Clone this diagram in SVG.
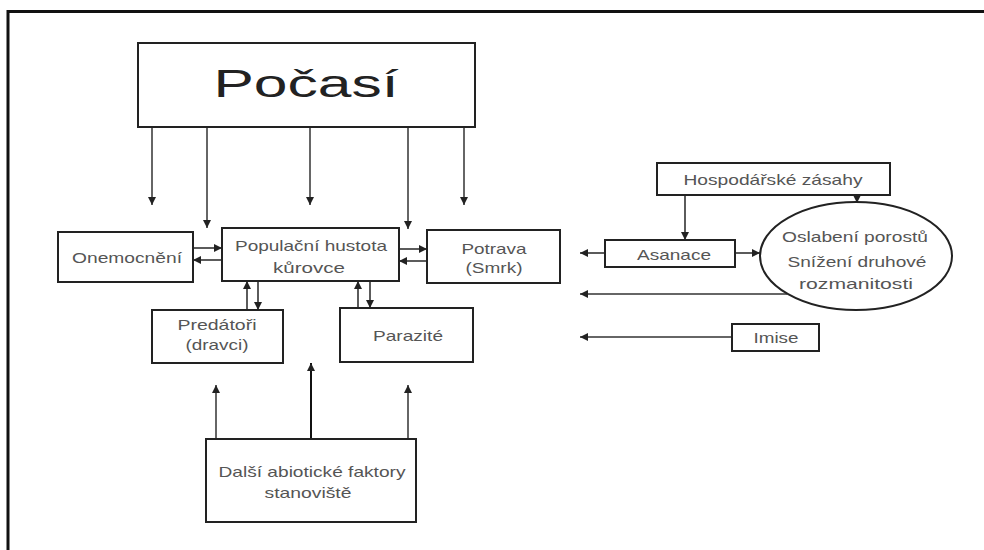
<svg xmlns="http://www.w3.org/2000/svg" width="984" height="550" viewBox="0 0 984 550">
<defs>
<marker id="ah" markerUnits="userSpaceOnUse" markerWidth="9" markerHeight="9" refX="8" refY="4.5" orient="auto">
<path d="M0,0.5 L8,4.5 L0,8.5 z" fill="#222"/>
</marker>
</defs>
<style>
.box{fill:#fff;stroke:#222;stroke-width:2}
.t{font-family:"Liberation Sans",Arial,sans-serif;font-size:15px;fill:#555;text-anchor:middle}
.c{fill:none;stroke:#333;stroke-width:1.6;marker-end:url(#ah)}
.g{fill:none;stroke:#666;stroke-width:2;marker-end:url(#ah)}
</style>
<rect x="0" y="0" width="984" height="550" fill="#fff"/>
<path d="M8,550 V11.5 H984" fill="none" stroke="#111" stroke-width="3"/>

<g id="connectors">
<line class="g" x1="152" y1="127" x2="152" y2="205"/>
<line class="g" x1="207" y1="127" x2="207" y2="228"/>
<line class="g" x1="310" y1="127" x2="310" y2="205"/>
<line class="g" x1="408" y1="127" x2="408" y2="229"/>
<line class="g" x1="464" y1="127" x2="464" y2="205"/>
<line class="c" x1="193" y1="248" x2="222" y2="248"/>
<line class="c" x1="222" y1="260" x2="193" y2="260"/>
<line class="c" x1="399" y1="249" x2="427" y2="249"/>
<line class="c" x1="427" y1="261" x2="399" y2="261"/>
<line class="c" x1="247" y1="310" x2="247" y2="281"/>
<line class="c" x1="258" y1="281" x2="258" y2="310"/>
<line class="c" x1="358" y1="308" x2="358" y2="281"/>
<line class="c" x1="370" y1="281" x2="370" y2="308"/>
<line class="g" x1="216" y1="439" x2="216" y2="385"/>
<line class="c" x1="311" y1="439" x2="311" y2="363" style="stroke:#111;stroke-width:2"/>
<line class="g" x1="408" y1="439" x2="408" y2="385"/>
<line class="c" x1="685" y1="195" x2="685" y2="240"/>
<line class="c" x1="857" y1="195" x2="857" y2="203"/>
<line class="c" x1="605" y1="253" x2="580" y2="253"/>
<line class="c" x1="735" y1="253" x2="760" y2="253"/>
<line class="c" x1="787" y1="294" x2="580" y2="294"/>
<line class="c" x1="732" y1="337" x2="580" y2="337"/>
</g>

<g id="pocasi">
<rect class="box" x="138" y="43" width="337" height="84"/>
<text class="t" x="306" y="97" style="font-size:38px;fill:#222" textLength="185" lengthAdjust="spacingAndGlyphs">Počasí</text>
</g>
<g id="onemocneni">
<rect class="box" x="58" y="232" width="135" height="50"/>
<text class="t" x="127" y="263" textLength="110" lengthAdjust="spacingAndGlyphs">Onemocnění</text>
</g>
<g id="populacni">
<rect class="box" x="222" y="228" width="177" height="53"/>
<text class="t" x="311" y="251" textLength="152" lengthAdjust="spacingAndGlyphs">Populační hustota</text>
<text class="t" x="309" y="273" textLength="72" lengthAdjust="spacingAndGlyphs">kůrovce</text>
</g>
<g id="potrava">
<rect class="box" x="427" y="230" width="133" height="53"/>
<text class="t" x="494" y="254" textLength="65" lengthAdjust="spacingAndGlyphs">Potrava</text>
<text class="t" x="494" y="273" textLength="57" lengthAdjust="spacingAndGlyphs">(Smrk)</text>
</g>
<g id="predatori">
<rect class="box" x="152" y="310" width="131" height="53"/>
<text class="t" x="217" y="330" textLength="79" lengthAdjust="spacingAndGlyphs">Predátoři</text>
<text class="t" x="217" y="350" textLength="63" lengthAdjust="spacingAndGlyphs">(dravci)</text>
</g>
<g id="parazite">
<rect class="box" x="340" y="308" width="133" height="54"/>
<text class="t" x="408" y="341" textLength="70" lengthAdjust="spacingAndGlyphs">Parazité</text>
</g>
<g id="dalsi">
<rect class="box" x="206" y="439" width="210" height="83"/>
<text class="t" x="312" y="477" textLength="187" lengthAdjust="spacingAndGlyphs">Další abiotické faktory</text>
<text class="t" x="308" y="498" textLength="87" lengthAdjust="spacingAndGlyphs">stanoviště</text>
</g>
<g id="hospodarske">
<rect class="box" x="657" y="163" width="233" height="32"/>
<text class="t" x="773" y="185" textLength="179" lengthAdjust="spacingAndGlyphs">Hospodářské zásahy</text>
</g>
<g id="asanace">
<rect class="box" x="605" y="240" width="130" height="27"/>
<text class="t" x="674" y="260" textLength="74" lengthAdjust="spacingAndGlyphs">Asanace</text>
</g>
<g id="oslabeni">
<ellipse class="box" cx="856" cy="256" rx="96" ry="54"/>
<text class="t" x="855" y="242" textLength="146" lengthAdjust="spacingAndGlyphs">Oslabení porostů</text>
<text class="t" x="857" y="267" textLength="139" lengthAdjust="spacingAndGlyphs">Snížení druhové</text>
<text class="t" x="856" y="289" textLength="114" lengthAdjust="spacingAndGlyphs">rozmanitosti</text>
</g>
<g id="imise">
<rect class="box" x="732" y="324" width="87" height="27"/>
<text class="t" x="776" y="343" textLength="45" lengthAdjust="spacingAndGlyphs">Imise</text>
</g>
</svg>
